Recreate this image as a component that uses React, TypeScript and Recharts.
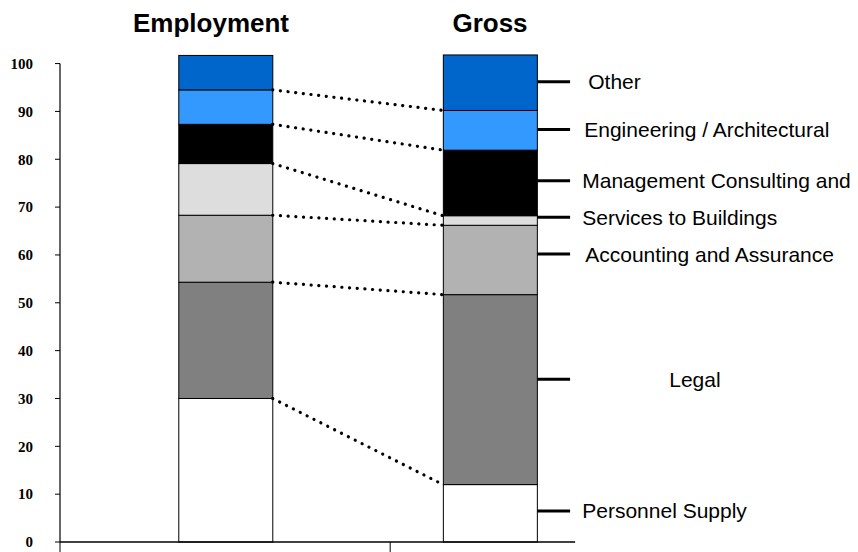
import React from "react";
import {
  ComposedChart,
  Bar,
  Line,
  XAxis,
  YAxis,
  ReferenceLine,
  ReferenceDot,
} from "recharts";

// two stacked columns, segment shares in percent (bottom to top)
const categories = ["Employment", "Gross"];
const personnel = [30.0, 12.0];
const legal = [24.3, 39.7];
const accounting = [14.0, 14.5];
const services = [10.8, 2.0];
const management = [8.2, 13.7];
const engineering = [7.2, 8.3];
const other = [7.2, 11.6];

const segments = [
  { key: "personnel", name: "Personnel Supply", values: personnel, color: "#FFFFFF" },
  { key: "legal", name: "Legal", values: legal, color: "#808080" },
  { key: "accounting", name: "Accounting and Assurance", values: accounting, color: "#B2B2B2" },
  { key: "services", name: "Services to Buildings", values: services, color: "#DDDDDD" },
  { key: "management", name: "Management Consulting and", values: management, color: "#000000" },
  { key: "engineering", name: "Engineering / Architectural", values: engineering, color: "#3399FF" },
  { key: "other", name: "Other", values: other, color: "#0066CC" },
];

// where each label's marker sits on the value axis
const labelValues = [6.5, 34, 60.2, 67.9, 75.5, 86.2, 96.2];

const yTicks = [0, 10, 20, 30, 40, 50, 60, 70, 80, 90, 100];

// layout on the numeric x axis (columns at x = 1 and x = 2)
const X_MIN = 0.374;
const X_MAX = 3.36;
const HALF = 0.178; // half a column
const AXIS_END = 2.321;
const MID_TICK = 1.622;
const DASH_END = 2.302;
const LABEL_X = 2.348;
const labelIndent = [0, 87, 3, 0, 0, 2, 6];
const COL_W = 94;

const data = categories.map((name, i) => {
  const row: Record<string, any> = { x: i + 1, name };
  segments.forEach((s) => (row[s.key] = s.values[i]));
  return row;
});

function cumulative(col: number) {
  const out: number[] = [];
  let sum = 0;
  segments.forEach((s) => {
    sum += s.values[col];
    out.push(sum);
  });
  return out;
}

const cumEmp = cumulative(0);
const cumGross = cumulative(1);
// dotted connectors between the boundaries (skip the very top)
const connectors = cumEmp.slice(0, -1).map((v, i) => [
  { x: 1 + HALF, y: v },
  { x: 2 - HALF, y: cumGross[i] },
]);

const titleStyle: React.CSSProperties = {
  position: "absolute",
  top: 8,
  width: 200,
  textAlign: "center",
  fontFamily: "'Liberation Sans', Arial, sans-serif",
  fontWeight: "bold",
  fontSize: 26,
  color: "#000",
};

// keep the column centred on its x value but at full width
const ColumnShape = (p: any) => (
  <rect
    x={p.x + p.width / 2 - COL_W / 2}
    y={p.y}
    width={COL_W}
    height={p.height}
    fill={p.fill}
    stroke="#000"
    strokeWidth={1}
  />
);

export default function App() {
  return (
    <div style={{ position: "absolute", left: 0, top: 0, width: 858, height: 552, background: "#fff" }}>
      <div style={{ ...titleStyle, left: 111 }}>Employment</div>
      <div style={{ ...titleStyle, left: 390 }}>Gross</div>
      <ComposedChart
        width={858}
        height={552}
        data={data}
        margin={{ top: 54, right: 8, bottom: 0, left: 0 }}
      >
        <XAxis
          dataKey="x"
          type="number"
          domain={[X_MIN, X_MAX]}
          ticks={[X_MIN, MID_TICK]}
          interval={0}
          tickFormatter={() => ""}
          tickSize={10}
          tickLine={{ stroke: "#000", strokeWidth: 1 }}
          axisLine={false}
          height={10}
        />
        <YAxis
          type="number"
          domain={[0, 102]}
          ticks={yTicks}
          interval={0}
          width={60}
          tickSize={5}
          tickMargin={22}
          tickLine={{ stroke: "#000", strokeWidth: 1 }}
          axisLine={false}
          tick={{
            fontFamily: "'Liberation Serif', 'Times New Roman', serif",
            fontWeight: "bold",
            fontSize: 15,
            fill: "#000",
          }}
        />
        {segments.map((s) => (
          <Bar
            key={s.key}
            dataKey={s.key}
            stackId="a"
            fill={s.color}
            shape={ColumnShape}
            isAnimationActive={false}
          />
        ))}
        <ReferenceLine
          segment={[{ x: X_MIN, y: 0 }, { x: X_MIN, y: 100 }]}
          stroke="#000"
          strokeWidth={1.2}
          ifOverflow="visible"
        />
        <ReferenceLine
          segment={[{ x: X_MIN, y: 0 }, { x: AXIS_END, y: 0 }]}
          stroke="#000"
          strokeWidth={1.5}
          ifOverflow="visible"
        />
        {connectors.map((pts, i) => (
          <Line
            key={"c" + i}
            data={pts}
            dataKey="y"
            type="linear"
            stroke="#000"
            strokeWidth={3.2}
            strokeDasharray="0.1 7.6"
            strokeLinecap="round"
            dot={false}
            activeDot={false}
            legendType="none"
            isAnimationActive={false}
          />
        ))}
        {segments.map((s, i) => (
          <ReferenceLine
            key={"d" + s.key}
            segment={[
              { x: 2 + HALF, y: labelValues[i] },
              { x: DASH_END, y: labelValues[i] },
            ]}
            stroke="#000"
            strokeWidth={3}
            ifOverflow="visible"
          />
        ))}
        {segments.map((s, i) => (
          <ReferenceDot
            key={"t" + s.key}
            x={LABEL_X}
            y={labelValues[i]}
            ifOverflow="visible"
            shape={(p: any) => (
              <text
                x={p.cx + labelIndent[i]}
                y={p.cy}
                dy="0.36em"
                fontFamily="'Liberation Sans', Arial, sans-serif"
                fontSize={21}
                fill="#000"
              >
                {s.name}
              </text>
            )}
          />
        ))}
      </ComposedChart>
    </div>
  );
}
